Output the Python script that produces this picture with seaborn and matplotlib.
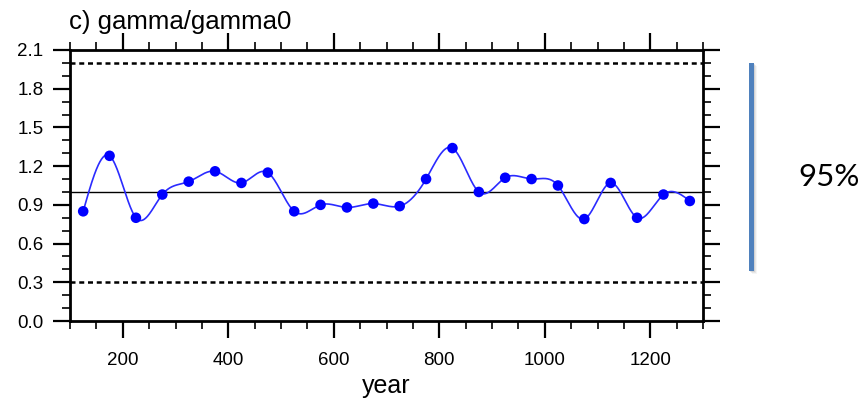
import numpy as np
import pandas as pd
import matplotlib
matplotlib.use("Agg")
import matplotlib.pyplot as plt
from matplotlib.ticker import MultipleLocator, FixedLocator, FormatStrFormatter
from matplotlib.patches import Rectangle
import seaborn as sns

# gamma/gamma0 ratio sampled every 50 years
years = [125, 175, 225, 275, 325, 375, 425, 475, 525, 575, 625, 675,
         725, 775, 825, 875, 925, 975, 1025, 1075, 1125, 1175, 1225, 1275]
ratio = [0.85, 1.28, 0.80, 0.98, 1.08, 1.16, 1.07, 1.15, 0.85, 0.90, 0.88, 0.91,
         0.89, 1.10, 1.34, 1.00, 1.11, 1.10, 1.05, 0.79, 1.07, 0.80, 0.98, 0.93]
reference_level = 1.0
bounds_95 = [0.3, 2.0]
title = "c) gamma/gamma0"
xlabel = "year"
conf_label = "95%"


def natural_cubic_spline(x, y, xs):
    """Evaluate a natural cubic spline through (x, y) at xs."""
    x = np.asarray(x, float)
    y = np.asarray(y, float)
    n = len(x)
    h = np.diff(x)
    A = np.zeros((n, n))
    b = np.zeros(n)
    A[0, 0] = A[-1, -1] = 1.0
    for i in range(1, n - 1):
        A[i, i - 1] = h[i - 1]
        A[i, i] = 2 * (h[i - 1] + h[i])
        A[i, i + 1] = h[i]
        b[i] = 6 * ((y[i + 1] - y[i]) / h[i] - (y[i] - y[i - 1]) / h[i - 1])
    M = np.linalg.solve(A, b)
    idx = np.clip(np.searchsorted(x, xs) - 1, 0, n - 2)
    x0, x1 = x[idx], x[idx + 1]
    hh = x1 - x0
    t0, t1 = x1 - xs, xs - x0
    return (M[idx] * t0 ** 3 / (6 * hh) + M[idx + 1] * t1 ** 3 / (6 * hh)
            + (y[idx] / hh - M[idx] * hh / 6) * t0
            + (y[idx + 1] / hh - M[idx + 1] * hh / 6) * t1)


df = pd.DataFrame({"year": years, "ratio": ratio})
xs = np.linspace(years[0], years[-1], 1200)
curve = pd.DataFrame({"year": xs, "ratio": natural_cubic_spline(years, ratio, xs)})

sns.set_theme(style="ticks")
plt.rcParams["font.family"] = ["Liberation Sans", "DejaVu Sans"]

fig = plt.figure(figsize=(8.65, 4.03), dpi=100)
ax = fig.add_axes([70 / 865, 1 - 321 / 403, 633 / 865, 271 / 403])

# reference and confidence bounds
ax.axhline(reference_level, color="black", lw=1.0, zorder=1)
for yb in bounds_95:
    ax.axhline(yb, color="black", lw=1.8, ls=(0, (2.0, 1.5)), zorder=1)

sns.lineplot(data=curve, x="year", y="ratio", ax=ax, color="#2b2bff",
             lw=1.2, zorder=2)
sns.scatterplot(data=df, x="year", y="ratio", ax=ax, color="#0000ff",
                s=58, edgecolor="none", zorder=3)

ax.set_xlim(100, 1300)
ax.set_ylim(0, 2.1)
ax.xaxis.set_major_locator(FixedLocator([200, 400, 600, 800, 1000, 1200]))
ax.xaxis.set_minor_locator(MultipleLocator(50))
ax.yaxis.set_major_locator(MultipleLocator(0.3))
ax.yaxis.set_minor_locator(MultipleLocator(0.1))
ax.yaxis.set_major_formatter(FormatStrFormatter("%.1f"))

for s in ax.spines.values():
    s.set_visible(True)
    s.set_linewidth(2.0)
    s.set_color("black")

ax.tick_params(which="both", direction="out", color="black",
               top=True, right=True, labeltop=False, labelright=False)
ax.tick_params(which="major", length=12, width=1.6, labelsize=13.5, pad=7,
               labelcolor="black")
ax.tick_params(which="minor", length=5.5, width=1.2)
ax.tick_params(axis="x", which="major", pad=10)

ax.set_xlabel(xlabel, fontsize=18, labelpad=4, color="black")
ax.set_ylabel("")

fig.text(69 / 865, 1 - 29 / 403, title, fontsize=18.5, va="baseline",
         ha="left", color="black")

# confidence bar with soft shadow to the right
for off, alpha in [(3, 0.08), (2, 0.12), (1, 0.18)]:
    fig.add_artist(Rectangle(((749 + off) / 865, 1 - (271 + off) / 403),
                             5 / 865, 208 / 403, transform=fig.transFigure,
                             facecolor="gray", edgecolor="none", alpha=alpha))
fig.add_artist(Rectangle((749 / 865, 1 - 271 / 403), 5 / 865, 208 / 403,
                         transform=fig.transFigure, facecolor="#4f81bd",
                         edgecolor="none"))
fig.text(798 / 865, 1 - 177 / 403, conf_label, fontsize=22.5, va="center",
         ha="left", color="black", family=["Lato", "DejaVu Sans"])

fig.savefig("out.png", dpi=100)
